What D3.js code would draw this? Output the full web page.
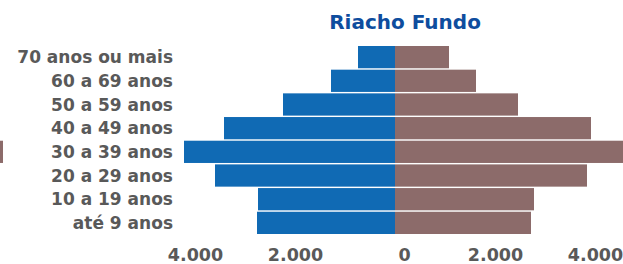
<!DOCTYPE html>
<html>
<head>
<meta charset="utf-8">
<script src="https://cdn.jsdelivr.net/npm/d3@7"></script>
<style>
  body { margin: 0; background: #fff; }
  svg text { font-family: "DejaVu Sans", sans-serif; font-weight: 700; }
</style>
</head>
<body>
<div id="chart"></div>
<script>
const width = 623;
const height = 264;

// faixas etarias (de cima para baixo)
const faixas = ["70 anos ou mais", "60 a 69 anos", "50 a 59 anos", "40 a 49 anos",
  "30 a 39 anos", "20 a 29 anos", "10 a 19 anos", "até 9 anos"];
const homens = [740, 1280, 2240, 3420, 4220, 3600, 2740, 2760];
const mulheres = [1080, 1620, 2460, 3920, 4650, 3840, 2780, 2720];
const ticks = [-4000, -2000, 0, 2000, 4000];

const fmt = v => d3.format(",")(Math.abs(v)).replace(/,/g, ".");

const svg = d3.select("#chart")
  .append("svg")
  .attr("width", width)
  .attr("height", height);

const x = d3.scaleLinear().domain([-4000, 4000]).range([195, 595]);
const y = d3.scaleBand().domain(faixas).range([46, 234]).paddingInner(0.06);

// title
svg.append("text")
  .attr("x", 405)
  .attr("y", 29)
  .attr("text-anchor", "middle")
  .attr("fill", "#0E4D9E")
  .style("font-size", "20px")
  .text("Riacho Fundo");

// bars
svg.selectAll("rect.h")
  .data(faixas)
  .enter()
  .append("rect")
  .attr("class", "h")
  .attr("x", (d, i) => x(-homens[i]))
  .attr("y", d => y(d))
  .attr("width", (d, i) => x(0) - x(-homens[i]))
  .attr("height", y.bandwidth())
  .attr("fill", "#106AB4");

svg.selectAll("rect.m")
  .data(faixas)
  .enter()
  .append("rect")
  .attr("class", "m")
  .attr("x", x(0))
  .attr("y", d => y(d))
  .attr("width", (d, i) => x(mulheres[i]) - x(0))
  .attr("height", y.bandwidth())
  .attr("fill", "#8C6B6A");

// cut-off swatch at left edge
svg.append("rect")
  .attr("x", 0)
  .attr("y", y("30 a 39 anos"))
  .attr("width", 3)
  .attr("height", y.bandwidth())
  .attr("fill", "#8C6B6A");

// category labels
svg.selectAll("text.cat")
  .data(faixas)
  .enter()
  .append("text")
  .attr("class", "cat")
  .attr("x", 173)
  .attr("y", d => y(d) + y.bandwidth() / 2)
  .attr("dy", "0.36em")
  .attr("text-anchor", "end")
  .attr("fill", "#595959")
  .style("font-size", "17px")
  .text(d => d);

// x axis labels (sit at the very bottom edge, as in the original)
const xAxis = svg.append("g")
  .attr("transform", "translate(0,261)")
  .call(d3.axisBottom(x).tickValues(ticks).tickFormat(fmt).tickSize(0));
xAxis.select(".domain").remove();
xAxis.selectAll("text")
  .attr("y", 0)
  .attr("dy", 0)
  .attr("dx", d => d === 0 ? 9 : 0)
  .attr("fill", "#595959")
  .style("font-size", "17.5px")
  .style("font-family", "'DejaVu Sans', sans-serif")
  .style("font-weight", 700);
</script>
</body>
</html>
